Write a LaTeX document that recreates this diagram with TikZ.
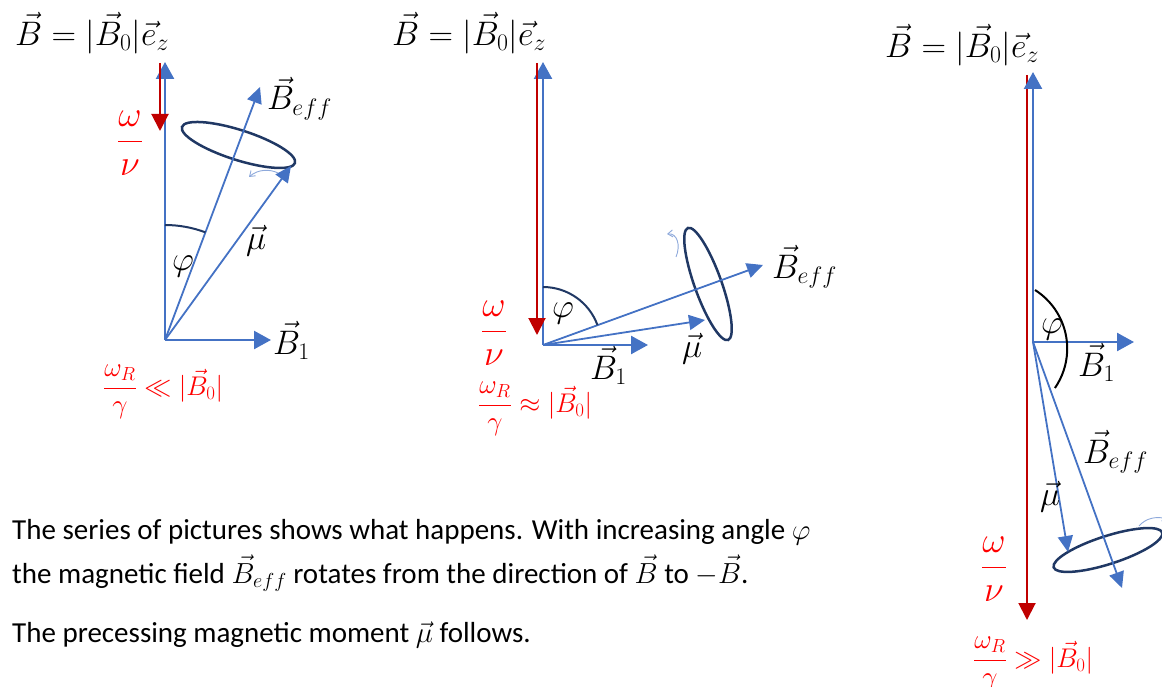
\RequirePackage{fix-cm}
\documentclass[tikz,border=0pt]{standalone}
\usepackage{amsmath}
\usepackage{fontspec}
\newfontfamily\bodyfont{Carlito}
\usetikzlibrary{arrows.meta}
\definecolor{myblue}{HTML}{4472C4}
\definecolor{darkred}{HTML}{C00000}
\definecolor{myred}{HTML}{FF0000}
\definecolor{navy}{HTML}{203864}
\definecolor{lightblue}{HTML}{8EA9DB}
\tikzset{
  mainarr/.style={draw=myblue, line width=2.4pt, -{Triangle[length=17pt,width=18pt]}},
  bluearr/.style={draw=myblue, line width=1.8pt, -{Triangle[length=16pt,width=15pt]}},
  redarr/.style={draw=darkred, line width=2pt, -{Triangle[length=17pt,width=17pt]}},
  precess/.style={draw=navy, line width=2.5pt},
  anglearc/.style={draw=navy, line width=2pt},
  rotarr/.style={draw=lightblue, line width=0.9pt, -{Straight Barb[length=5pt,width=7pt]}},
  title/.style={inner sep=0pt, font=\fontsize{34}{40}\selectfont},
  lbl/.style={inner sep=0pt, anchor=base west, font=\fontsize{34}{40}\selectfont},
  redfrac/.style={inner sep=0pt, text=myred, font=\fontsize{36}{42}\selectfont},
  redcond/.style={inner sep=0pt, anchor=west, text=myred, font=\fontsize{27}{32}\selectfont},
  body/.style={inner sep=0pt, anchor=base west, font=\bodyfont\fontsize{29}{34}\selectfont},
}
\begin{document}
\begin{tikzpicture}[x=1pt,y=-1pt]
\useasboundingbox (0,0) rectangle (1162,687);
% ---------- panel 1 ----------
\coordinate (O1) at (165,340);
\coordinate (Z1) at (165,62);
\coordinate (R1s) at (160,63);
\coordinate (R1e) at (160,131);
\coordinate (X1) at (271,340);
\coordinate (E1) at (260,87);
\coordinate (M1) at (291,166);
\coordinate (C1) at (238.5,145);
\coordinate (A1) at (165,225);
\coordinate (W1s) at (278,173);
\coordinate (W1e) at (249,177);
\node[title] (t1) at (92,33) {$\vec{B}=\lvert\vec{B}_0\rvert\vec{e}_z$};
\draw[precess, rotate around={-17.7:(C1)}] (C1) ellipse [x radius=59.3pt, y radius=15pt];
\draw[mainarr] (O1) -- (Z1);
\draw[redarr] (R1s) -- (R1e);
\draw[mainarr] (O1) -- (X1);
\draw[bluearr] (O1) -- (E1);
\draw[bluearr] (O1) -- (M1);
\draw[anglearc] (A1) arc[start angle=90, end angle=69.4, radius=115pt];
\draw[rotarr] (W1s) .. controls (270,169) and (258,169) .. (W1e);
\node[lbl] (be1) at (267,110) {$\vec{B}_{eff}$};
\node[lbl] (b11) at (273,354) {$\vec{B}_1$};
\node[lbl] (mu1) at (246,250) {$\vec{\mu}$};
\node[lbl] (ph1) at (172,270) {$\varphi$};
\node[redfrac] (wn1) at (130,143) {$\dfrac{\omega}{\nu}$};
\node[redcond] (c1) at (103,392) {$\dfrac{\omega_R}{\gamma}\ll\lvert\vec{B}_0\rvert$};
% ---------- panel 2 ----------
\coordinate (O2) at (543,345);
\coordinate (Z2) at (543,62);
\coordinate (R2s) at (537,63);
\coordinate (R2e) at (537,335);
\coordinate (X2) at (648,345);
\coordinate (E2) at (763,265);
\coordinate (M2) at (705,320);
\coordinate (C2) at (708,284);
\coordinate (A2) at (543,287);
\coordinate (W2s) at (676,257);
\coordinate (W2e) at (667,234);
\node[title] (t2) at (469,33) {$\vec{B}=\lvert\vec{B}_0\rvert\vec{e}_z$};
\draw[precess, rotate around={-70.3:(C2)}] (C2) ellipse [x radius=59.5pt, y radius=13.5pt];
\draw[mainarr] (O2) -- (Z2);
\draw[redarr] (R2s) -- (R2e);
\draw[mainarr] (O2) -- (X2);
\draw[bluearr] (O2) -- (E2);
\draw[bluearr] (O2) -- (M2);
\draw[anglearc] (A2) arc[start angle=90, end angle=20, radius=58pt];
\draw[rotarr] (W2s) .. controls (681,245) and (677,233) .. (W2e);
\node[lbl] (be2) at (772,278) {$\vec{B}_{eff}$};
\node[lbl] (b12) at (590,379) {$\vec{B}_1$};
\node[lbl] (mu2) at (682,357) {$\vec{\mu}$};
\node[lbl] (ph2) at (552,317) {$\varphi$};
\node[redfrac] (wn2) at (494,333) {$\dfrac{\omega}{\nu}$};
\node[redcond] (c2) at (478,409) {$\dfrac{\omega_R}{\gamma}\approx\lvert\vec{B}_0\rvert$};
% ---------- panel 3 ----------
\coordinate (O3) at (1033,342);
\coordinate (Z3) at (1033,72);
\coordinate (R3s) at (1027,75);
\coordinate (R3e) at (1027,620);
\coordinate (X3) at (1134,342);
\coordinate (E3) at (1122,588);
\coordinate (M3) at (1068,552);
\coordinate (C3) at (1108,550);
\coordinate (A3) at (1035,290);
\coordinate (W3s) at (1139,526);
\coordinate (W3e) at (1168,519);
\node[title] (t3) at (962,45) {$\vec{B}=\lvert\vec{B}_0\rvert\vec{e}_z$};
\draw[precess, rotate around={17.8:(C3)}] (C3) ellipse [x radius=57pt, y radius=14pt];
\draw[redarr] (R3s) -- (R3e);
\draw[mainarr] (O3) -- (Z3);
\draw[mainarr] (O3) -- (X3);
\draw[bluearr] (O3) -- (E3);
\draw[bluearr] (O3) -- (M3);
\draw[line width=2pt, black] (A3) arc[start angle=57.6, end angle=-34.6, radius=69.4pt];
\draw[rotarr] (W3s) .. controls (1146,518) and (1156,516) .. (W3e);
\node[lbl] (be3) at (1083,463) {$\vec{B}_{eff}$};
\node[lbl] (b13) at (1078,376) {$\vec{B}_1$};
\node[lbl] (mu3) at (1040,505) {$\vec{\mu}$};
\node[lbl] (ph3) at (1041,333) {$\varphi$};
\node[redfrac] (wn3) at (994,569) {$\dfrac{\omega}{\nu}$};
\node[redcond] (c3) at (973,664) {$\dfrac{\omega_R}{\gamma}\gg\lvert\vec{B}_0\rvert$};
% ---------- text ----------
\node[body] (l1) at (12,539) {The series of pictures shows what happens. With increasing angle $\varphi$};
\node[body] (l2) at (12,583) {the magnetic field $\vec{B}_{eff}$ rotates from the direction of $\vec{B}$ to $-\vec{B}$.};
\node[body] (l3) at (12,642) {The precessing magnetic moment $\vec{\mu}$ follows.};
\end{tikzpicture}
\end{document}
